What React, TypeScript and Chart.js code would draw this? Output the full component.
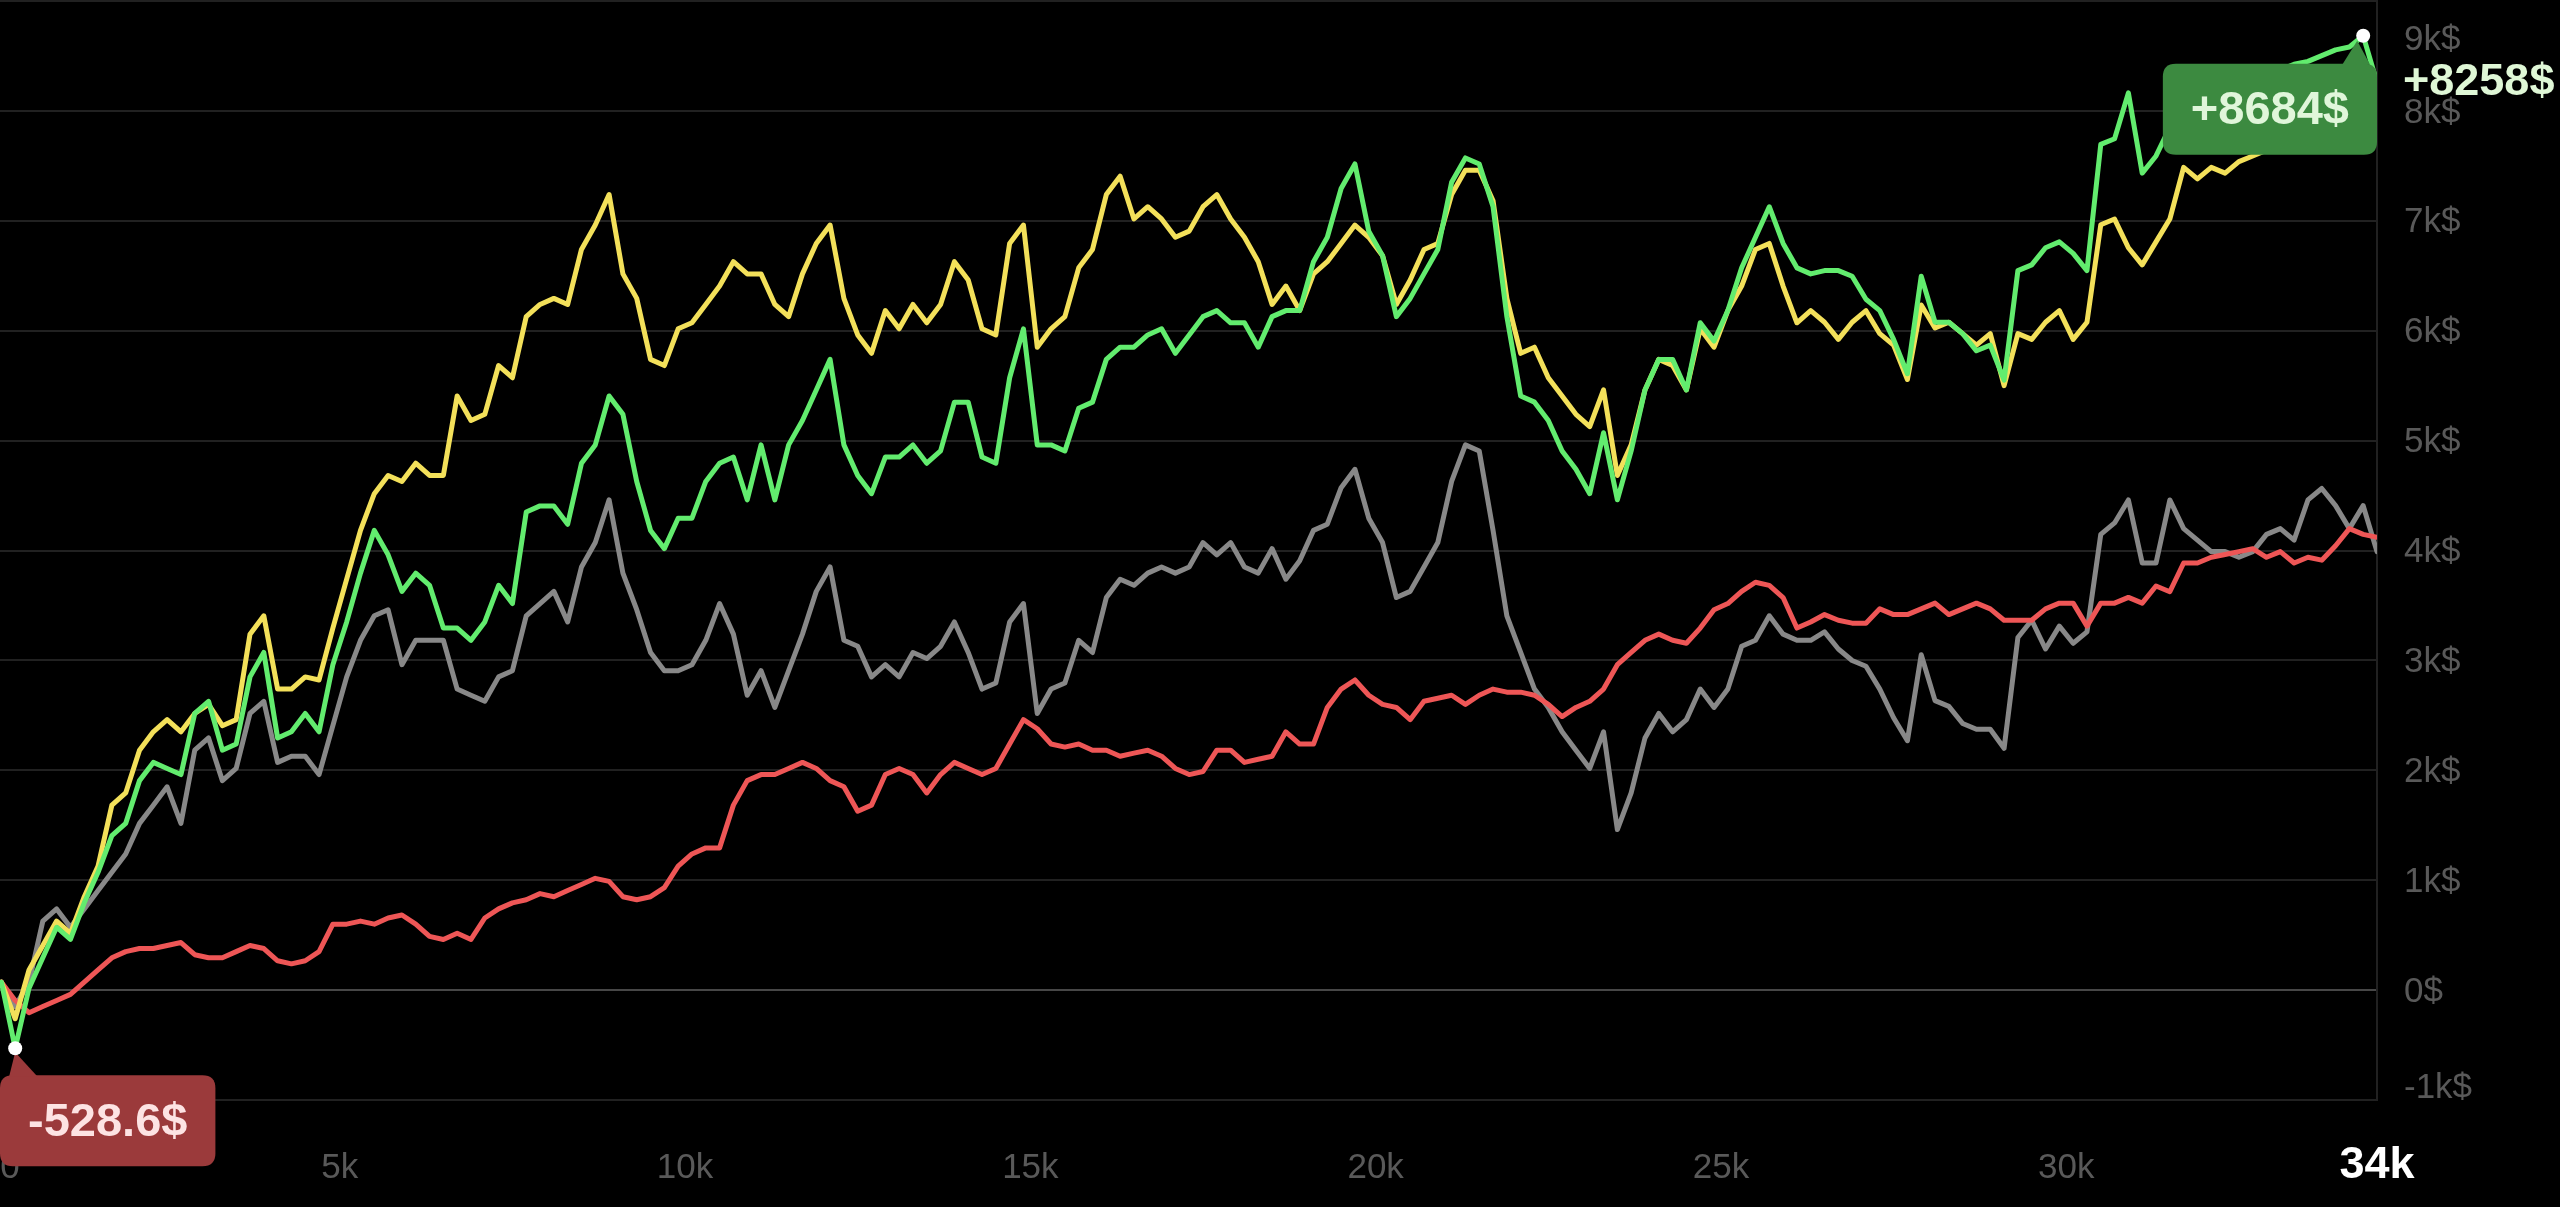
import React, { useEffect, useRef } from "react";
import { Chart, registerables } from "chart.js";

Chart.register(...registerables);

// Trade index axis (in trades); one sample every 200 trades starting at 100
const X_FIRST = 100;
const X_STEP = 200;
const X_MIN = 80;
const X_MAX = 34500;
const X_TICKS = [0, 5000, 10000, 15000, 20000, 25000, 30000];
const Y_TICKS = [-1000, 0, 1000, 2000, 3000, 4000, 5000, 6000, 7000, 8000, 9000];

const YELLOW = [
  72, -261, 183, 406, 628, 517, 850, 1128, 1683, 1794, 2183, 2350, 2461, 2350, 2517, 2600, 2406, 2461, 3239, 3406,
  2739, 2739, 2850, 2822, 3294, 3739, 4183, 4517, 4683, 4628, 4794, 4683, 4683, 5406, 5183, 5239, 5683, 5572, 6128, 6239,
  6294, 6239, 6739, 6961, 7239,
  6517, 6294, 5739, 5683, 6017, 6072, 6239, 6406, 6628, 6517, 6517, 6239, 6128, 6517, 6794, 6961, 6294, 5961, 5794, 6183,
  6017, 6239, 6072, 6239, 6628, 6461, 6017, 5961, 6794, 6961, 5850, 6017, 6128, 6572, 6739, 7239, 7406, 7017, 7128, 7017,
  6850, 6906, 7128, 7239,
  7017, 6850, 6628, 6239, 6406, 6183, 6517, 6628, 6794, 6961, 6850, 6683, 6239, 6461, 6739, 6794, 7239, 7461, 7461, 7183,
  6294, 5794, 5850, 5572, 5406, 5239, 5128, 5461, 4683, 4961, 5461, 5739, 5683, 5461, 6017, 5850, 6183, 6406, 6739, 6794,
  6406, 6072, 6183,
  6077, 5921, 6077, 6182, 5973, 5869, 5556, 6234, 6025, 6077, 5973, 5869, 5973, 5500, 5973, 5921, 6077, 6182, 5921, 6077,
  6964, 7016, 6755, 6599, 6808, 7016, 7486, 7382, 7486, 7434, 7538, 7590, 7642, 7694, 7694, 7694, 7747, 7747, 7773, 7799,
  7773,
];

const GREEN = [
  72, -528.6, 17, 294, 572, 461, 794, 1072, 1406, 1517, 1906, 2072, 2017, 1961, 2517, 2628, 2183, 2239, 2850, 3072,
  2294, 2350, 2517, 2350, 2961, 3350, 3794, 4183, 3961, 3628, 3794, 3683, 3294, 3294, 3183, 3350, 3683, 3517, 4350, 4406,
  4406, 4239, 4794, 4961, 5406,
  5239, 4628, 4183, 4017, 4294, 4294, 4628, 4794, 4850, 4461, 4961, 4461, 4961, 5183, 5461, 5739, 4961, 4683, 4517, 4850,
  4850, 4961, 4794, 4906, 5350, 5350, 4850, 4794, 5572, 6017, 4961, 4961, 4906, 5294, 5350, 5739, 5850, 5850, 5961, 6017,
  5794, 5961, 6128, 6183,
  6072, 6072, 5850, 6128, 6183, 6183, 6628, 6850, 7294, 7517, 6906, 6683, 6128, 6294, 6517, 6739, 7350, 7572, 7517, 7128,
  6128, 5406, 5350, 5183, 4906, 4739, 4517, 5072, 4461, 4906, 5461, 5739, 5739, 5461, 6072, 5906, 6183, 6572, 6850, 7128,
  6794, 6572, 6517,
  6547, 6547, 6495, 6286, 6182, 5921, 5608, 6495, 6077, 6077, 5973, 5817, 5869, 5550, 6547, 6599, 6755, 6808, 6703, 6547,
  7695, 7747, 8164, 7434, 7590, 7851, 8112, 8216, 8216, 8268, 8321, 8321, 8373, 8373, 8425, 8451, 8503, 8555, 8581, 8684,
  8258,
];

const GREY = [
  72, -150, 72, 628, 739, 572, 739, 906, 1072, 1239, 1517, 1683, 1850, 1517, 2183, 2294, 1906, 2017, 2517, 2628,
  2072, 2128, 2128, 1961, 2406, 2850, 3183, 3406, 3461, 2961, 3183, 3183, 3183, 2739, 2683, 2628, 2850, 2906, 3406, 3517,
  3628, 3350, 3850, 4072, 4461,
  3794, 3461, 3072, 2906, 2906, 2961, 3183, 3517, 3239, 2683, 2906, 2572, 2906, 3239, 3628, 3850, 3183, 3128, 2850, 2961,
  2850, 3072, 3017, 3128, 3350, 3072, 2739, 2794, 3350, 3517, 2517, 2739, 2794, 3183, 3072, 3572, 3739, 3683, 3794, 3850,
  3794, 3850, 4072, 3961,
  4072, 3850, 3794, 4017, 3739, 3906, 4183, 4239, 4572, 4739, 4294, 4072, 3572, 3628, 3850, 4072, 4628, 4961, 4906, 4183,
  3406, 3072, 2739, 2572, 2350, 2183, 2017, 2350, 1461, 1794, 2294, 2517, 2350, 2461, 2739, 2572, 2739, 3128, 3183, 3406,
  3239, 3183, 3183,
  3260, 3104, 2999, 2947, 2739, 2478, 2269, 3051, 2634, 2582, 2426, 2373, 2373, 2200, 3208, 3365, 3104, 3312, 3156, 3260,
  4147, 4251, 4460, 3886, 3886, 4460, 4199, 4095, 3990, 3990, 3938, 3990, 4147, 4199, 4095, 4460, 4564, 4408, 4199, 4408,
  3990,
];

const RED = [
  72, -94, -206, -150, -94, -39, 72, 183, 294, 350, 378, 378, 406, 433, 322, 294, 294, 350, 406, 378,
  267, 239, 267, 350, 600, 600, 628, 600, 656, 683, 600, 489, 461, 517, 461, 656, 739, 794, 822, 878,
  850, 906, 961, 1017, 989,
  850, 822, 850, 933, 1128, 1239, 1294, 1294, 1683, 1906, 1961, 1961, 2017, 2072, 2017, 1906, 1850, 1628, 1683, 1961,
  2017, 1961, 1794, 1961, 2072, 2017, 1961, 2017, 2239, 2461, 2378, 2239, 2211, 2239, 2183, 2183, 2128, 2156, 2183, 2128,
  2017, 1961, 1989, 2183,
  2183, 2072, 2100, 2128, 2350, 2239, 2239, 2572, 2739, 2822, 2683, 2600, 2572, 2461, 2628, 2656, 2683, 2600, 2683, 2739,
  2711, 2711, 2683, 2600, 2489, 2572, 2628, 2739, 2961, 3072, 3183, 3239, 3183, 3156, 3294, 3461, 3517, 3628, 3711, 3683,
  3572, 3294, 3350,
  3417, 3365, 3339, 3339, 3469, 3417, 3417, 3469, 3521, 3417, 3469, 3521, 3469, 3365, 3365, 3365, 3469, 3521, 3521, 3312,
  3521, 3521, 3573, 3521, 3677, 3625, 3886, 3886, 3938, 3964, 3990, 4016, 3938, 3990, 3886, 3938, 3912, 4043, 4199, 4147,
  4121,
];

const COLORS = {
  yellow: "#f3e05a",
  green: "#62ec6e",
  grey: "#888888",
  red: "#ee5656",
};

const FONT = '"Liberation Sans", Arial, Helvetica, sans-serif';

function toPoints(values: number[]) {
  return values.map((v, i) => ({ x: X_FIRST + X_STEP * i, y: v }));
}

function fmtY(v: number) {
  if (v === 0) return "0$";
  return `${v / 1000}k$`;
}
function fmtX(v: number) {
  if (v === 0) return "0";
  return `${v / 1000}k`;
}
function fmtMoney(v: number) {
  const sign = v >= 0 ? "+" : "-";
  const a = Math.abs(v);
  const s = a >= 1000 ? String(Math.round(a)) : a.toFixed(1);
  return `${sign}${s}$`;
}

function roundRect(ctx: CanvasRenderingContext2D, x: number, y: number, w: number, h: number, r: number) {
  ctx.beginPath();
  ctx.moveTo(x + r, y);
  ctx.lineTo(x + w - r, y);
  ctx.quadraticCurveTo(x + w, y, x + w, y + r);
  ctx.lineTo(x + w, y + h - r);
  ctx.quadraticCurveTo(x + w, y + h, x + w - r, y + h);
  ctx.lineTo(x + r, y + h);
  ctx.quadraticCurveTo(x, y + h, x, y + h - r);
  ctx.lineTo(x, y + r);
  ctx.quadraticCurveTo(x, y, x + r, y);
  ctx.closePath();
}

const overlayPlugin = {
  id: "overlay",
  beforeDraw(chart: any) {
    const ctx = chart.ctx as CanvasRenderingContext2D;
    ctx.save();
    ctx.fillStyle = "#000";
    ctx.fillRect(0, 0, chart.width, chart.height);
    ctx.restore();
  },
  afterDraw(chart: any) {
    const ctx = chart.ctx as CanvasRenderingContext2D;
    const xs = chart.scales.x;
    const ys = chart.scales.y;
    const area = chart.chartArea;
    ctx.save();

    // y-axis labels
    ctx.font = `35px ${FONT}`;
    ctx.fillStyle = "#595959";
    ctx.textAlign = "left";
    ctx.textBaseline = "middle";
    Y_TICKS.forEach((v) => {
      let py = ys.getPixelForValue(v) + 2;
      py = Math.min(Math.max(py, 40), 1088);
      ctx.fillText(fmtY(v), area.right + 27, py);
    });

    // x-axis labels
    ctx.textAlign = "center";
    X_TICKS.forEach((v) => {
      let px = xs.getPixelForValue(v);
      px = Math.max(px, 10);
      ctx.fillText(fmtX(v), px, 1168);
    });

    // current trade count label
    const lastIdx = GREEN.length - 1;
    const lastX = X_FIRST + X_STEP * lastIdx;
    ctx.font = `bold 45px ${FONT}`;
    ctx.fillStyle = "#ffffff";
    ctx.fillText(`${Math.floor(lastX / 1000)}k`, Math.min(xs.getPixelForValue(lastX), area.right), 1166);

    // current value label
    const lastVal = GREEN[lastIdx];
    ctx.font = `bold 45px ${FONT}`;
    ctx.fillStyle = "#dff7d6";
    ctx.textAlign = "left";
    ctx.fillText(fmtMoney(lastVal), area.right + 26, ys.getPixelForValue(lastVal));

    // min / max markers
    let minI = 0;
    let maxI = 0;
    GREEN.forEach((v, i) => {
      if (v < GREEN[minI]) minI = i;
      if (v > GREEN[maxI]) maxI = i;
    });

    const boxH = 91;
    const pad = 28;
    ctx.font = `bold 47px ${FONT}`;
    ctx.textAlign = "center";

    // max tooltip
    {
      const px = xs.getPixelForValue(X_FIRST + X_STEP * maxI);
      const py = ys.getPixelForValue(GREEN[maxI]);
      const label = fmtMoney(GREEN[maxI]);
      const w = ctx.measureText(label).width + pad * 2;
      const right = Math.min(px + 19, area.right);
      const left = right - w;
      const top = py + 28;
      ctx.fillStyle = "#3c8a40";
      roundRect(ctx, left, top, w, boxH, 13);
      ctx.fill();
      ctx.beginPath();
      ctx.moveTo(px - 6, py + 5);
      ctx.lineTo(px - 21, top + 1);
      ctx.lineTo(px + 7, top + 1);
      ctx.closePath();
      ctx.fill();
      ctx.fillStyle = "#e0f6da";
      ctx.fillText(label, left + w / 2, top + boxH / 2 + 2);
      ctx.fillStyle = "#ffffff";
      ctx.beginPath();
      ctx.arc(px, py, 7, 0, Math.PI * 2);
      ctx.fill();
    }

    // min tooltip
    {
      const px = xs.getPixelForValue(X_FIRST + X_STEP * minI);
      const py = ys.getPixelForValue(GREEN[minI]);
      const label = fmtMoney(GREEN[minI]);
      const w = ctx.measureText(label).width + pad * 2;
      const left = Math.max(px - 17, 0);
      const top = py + 27;
      ctx.fillStyle = "#9b3a3b";
      roundRect(ctx, left, top, w, boxH, 13);
      ctx.fill();
      ctx.beginPath();
      ctx.moveTo(px, py + 4);
      ctx.lineTo(px - 6, top + 1);
      ctx.lineTo(px + 22, top + 1);
      ctx.closePath();
      ctx.fill();
      ctx.fillStyle = "#fde3e3";
      ctx.fillText(label, left + w / 2, top + boxH / 2 + 2);
      ctx.fillStyle = "#ffffff";
      ctx.beginPath();
      ctx.arc(px, py, 7, 0, Math.PI * 2);
      ctx.fill();
    }

    ctx.restore();
  },
};

export default function App() {
  const canvasRef = useRef<HTMLCanvasElement | null>(null);

  useEffect(() => {
    document.body.style.margin = "0";
    document.body.style.background = "#000";
    const canvas = canvasRef.current;
    if (!canvas) return;
    const chart = new Chart(canvas, {
      type: "line",
      data: {
        datasets: [
          { label: "green", data: toPoints(GREEN), borderColor: COLORS.green },
          { label: "yellow", data: toPoints(YELLOW), borderColor: COLORS.yellow },
          { label: "red", data: toPoints(RED), borderColor: COLORS.red },
          { label: "grey", data: toPoints(GREY), borderColor: COLORS.grey },
        ],
      },
      options: {
        responsive: false,
        animation: false,
        devicePixelRatio: 1,
        events: [],
        layout: { padding: { top: 1, left: 0, right: 0, bottom: 0 } },
        plugins: { legend: { display: false }, tooltip: { enabled: false } },
        elements: {
          point: { radius: 0 },
          line: { borderWidth: 5, tension: 0, borderJoinStyle: "round", borderCapStyle: "round" },
        },
        scales: {
          x: {
            type: "linear",
            min: X_MIN,
            max: X_MAX,
            grid: { display: false },
            border: { display: false },
            ticks: { display: false },
            afterFit: (s: any) => {
              s.height = 107;
            },
          },
          y: {
            type: "linear",
            position: "right",
            min: -1000,
            max: 9000,
            ticks: { display: false, stepSize: 1000 },
            grid: {
              drawTicks: false,
              lineWidth: 2,
              color: (c: any) => (c.tick && c.tick.value === 0 ? "#474747" : "#212121"),
            },
            border: { display: true, color: "#212121", width: 2 },
            afterFit: (s: any) => {
              s.width = 183;
            },
          },
        },
      } as any,
      plugins: [overlayPlugin],
    });
    return () => chart.destroy();
  }, []);

  return (
    <div style={{ width: 2560, height: 1207, background: "#000" }}>
      <canvas ref={canvasRef} width={2560} height={1207} style={{ display: "block" }} />
    </div>
  );
}
